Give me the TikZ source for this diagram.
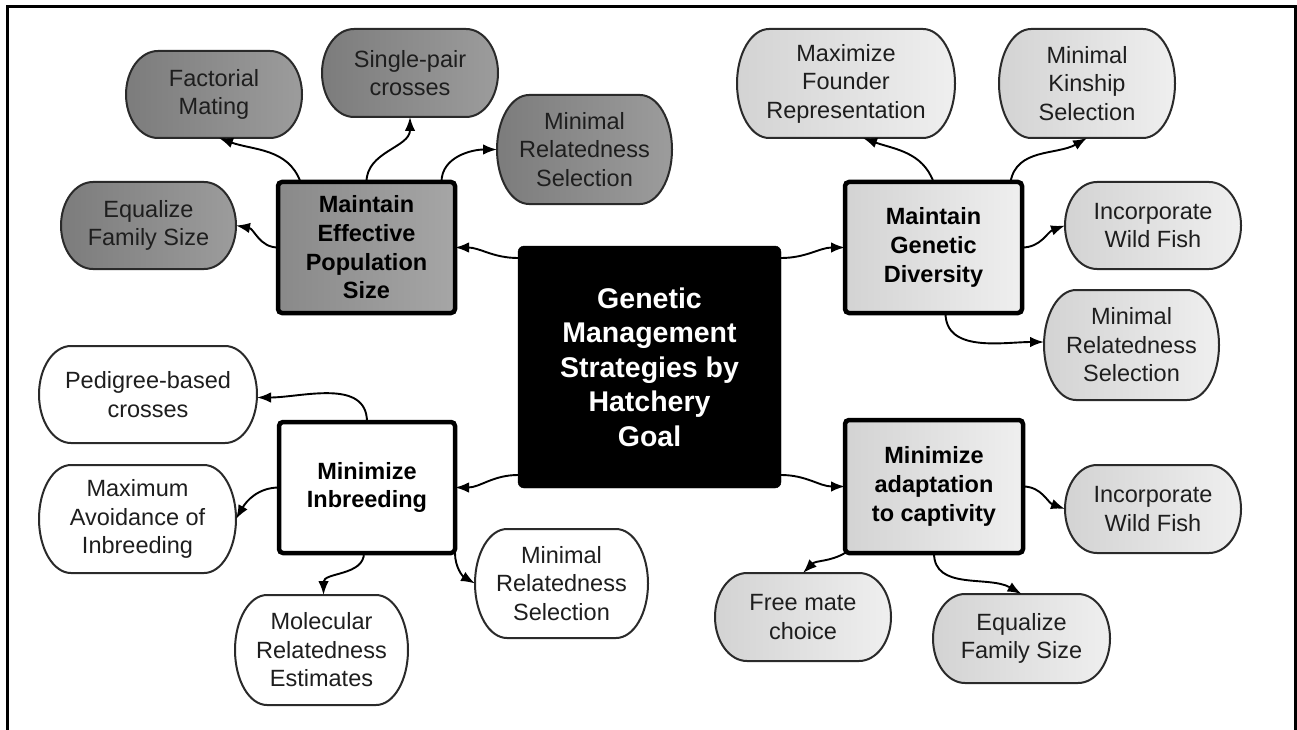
\documentclass[tikz,border=0pt]{standalone}
\usepackage{fontspec}
\setmainfont{Liberation Sans}
\usetikzlibrary{arrows.meta}

\definecolor{darkA}{HTML}{7C7C7C}
\definecolor{darkB}{HTML}{9C9C9C}
\definecolor{lightA}{HTML}{D3D3D3}
\definecolor{lightB}{HTML}{EFEFEF}
\definecolor{edge}{HTML}{2A2A2A}
\definecolor{ink}{HTML}{1E1E1E}

% horizontal radius of the elliptic ends of the option nodes
\def\pillrx{32}

% option node: name, centre x, centre y (downwards), width, height, fill style, text
\newcommand\pill[7]{%
  \path[pillborder,#6]
    ({#2-#4/2+\pillrx},{-#3+#5/2}) -- ({#2+#4/2-\pillrx},{-#3+#5/2})
    arc[start angle=90,end angle=-90,x radius=\pillrx,y radius={#5/2}]
    -- ({#2-#4/2+\pillrx},{-#3-#5/2})
    arc[start angle=270,end angle=90,x radius=\pillrx,y radius={#5/2}]
    -- cycle;
  \node[pilltext,minimum width=#4pt,minimum height=#5pt] (#1) at (#2,-#3) {#7};
}

\tikzset{
  pillborder/.style={draw=edge,line width=2pt},
  darkfill/.style={left color=darkA,right color=darkB},
  lightfill/.style={left color=lightA,right color=lightB},
  whitefill/.style={fill=white},
  pilltext/.style={inner sep=0pt,outer sep=0pt,align=center,text=ink,
    font=\fontsize{23.5}{28.5}\selectfont},
  goalbox/.style={draw=black,line width=4.5pt,rounded corners=4pt,inner sep=0pt,
    outer sep=0pt,align=center,text=black,
    font=\fontsize{23.5}{28.7}\selectfont\bfseries},
  hub/.style={fill=black,draw=black,rounded corners=6pt,inner sep=0pt,outer sep=0pt,
    align=center,text=white,font=\fontsize{28.5}{34.5}\selectfont\bfseries,
    minimum width=263pt,minimum height=242pt},
  link/.style={draw=black,line width=1.9pt,-{Latex[length=14pt,width=10.5pt]}},
  frameline/.style={draw=black,line width=3pt}
}

\begin{document}
\begin{tikzpicture}[x=1pt,y=1pt]
\useasboundingbox (0,0) rectangle (1297,-730);
\fill[white] (0,0) rectangle (1297,-730);

% open frame around the chart
\draw[frameline] (7.5,-730) -- (7.5,-6.5) -- (1295,-6.5) -- (1295,-730);

% central goal
\node[hub] (ctr) at (649.5,-367) {Genetic\\Management\\Strategies by\\Hatchery\\Goal};

% four management goals
\node[goalbox,left color=darkA!90!white,right color=darkB!90!white,
      minimum width=177pt,minimum height=131pt] (mep) at (366.5,-247.5)
      {Maintain\\Effective\\Population\\Size};
\node[goalbox,left color=lightA,right color=lightB,
      minimum width=177pt,minimum height=131pt] (mgd) at (933.5,-247.5)
      {Maintain\\Genetic\\Diversity};
\node[goalbox,fill=white,
      minimum width=176pt,minimum height=131pt] (mib) at (367,-487.5)
      {Minimize\\Inbreeding};
\node[goalbox,left color=lightA,right color=lightB,
      minimum width=178pt,minimum height=133pt] (mac) at (934,-486.5)
      {Minimize\\adaptation\\to captivity};

% strategies for effective population size
\pill{fac}{214}{94.5}{176}{87}{darkfill}{Factorial\\Mating}
\pill{spc}{410}{73}{176}{88}{darkfill}{Single-pair\\crosses}
\pill{mrs1}{584.5}{149.5}{175}{109}{darkfill}{Minimal\\Relatedness\\Selection}
\pill{efs1}{148.5}{225.5}{175}{87}{darkfill}{Equalize\\Family Size}

% strategies for genetic diversity
\pill{mfr}{846}{83.5}{218}{109}{lightfill}{Maximize\\Founder\\Representation}
\pill{mks}{1087}{83.5}{176}{109}{lightfill}{Minimal\\Kinship\\Selection}
\pill{iwf1}{1153}{225.5}{176}{87}{lightfill}{Incorporate\\Wild Fish}
\pill{mrs2}{1131.5}{345}{175}{110}{lightfill}{Minimal\\Relatedness\\Selection}

% strategies against inbreeding
\pill{pbc}{148}{394.5}{218}{97}{whitefill}{Pedigree-based\\crosses}
\pill{maoi}{137.5}{519}{197}{108}{whitefill}{Maximum\\Avoidance of\\Inbreeding}
\pill{mre}{321.5}{650}{173}{110}{whitefill}{Molecular\\Relatedness\\Estimates}
\pill{mrs3}{561.5}{583.5}{173}{109}{whitefill}{Minimal\\Relatedness\\Selection}

% strategies against adaptation to captivity
\pill{iwf2}{1153}{509}{176}{88}{lightfill}{Incorporate\\Wild Fish}
\pill{fmc}{803}{617}{176}{88}{lightfill}{Free mate\\choice}
\pill{efs2}{1021.5}{638.5}{177}{89}{lightfill}{Equalize\\Family Size}

% hub to goals
\draw[link] ([yshift=109pt]ctr.west) to[out=180,in=0] (mep.east);
\draw[link] ([yshift=109pt]ctr.east) to[out=0,in=180] (mgd.west);
\draw[link] ([yshift=-108pt]ctr.west) to[out=180,in=0] (mib.east);
\draw[link] ([yshift=-108pt]ctr.east) to[out=0,in=180] (mac.west);

% effective population size
\draw[link] ([xshift=-66pt]mep.north) to[out=110,in=-20] ([xshift=5pt]fac.south);
\draw[link] (mep.north) to[out=90,in=-90] (spc.south);
\draw[link] ([xshift=75pt]mep.north) to[out=90,in=180] (mrs1.west);
\draw[link] (mep.west) to[out=180,in=-10] (efs1.east);

% genetic diversity
\draw[link] (mgd.north) to[out=110,in=-20] ([xshift=17pt]mfr.south);
\draw[link] ([xshift=77pt]mgd.north) to[out=80,in=-150] (mks.south);
\draw[link] (mgd.east) to[out=0,in=-160] (iwf1.west);
\draw[link] ([xshift=12pt]mgd.south) to[out=-90,in=180] ([yshift=3pt]mrs2.west);

% inbreeding
\draw[link] (mib.north) to[out=90,in=0] ([yshift=-3pt]pbc.east);
\draw[link] (mib.west) to[out=180,in=60] (maoi.east);
\draw[link] ([xshift=-3pt]mib.south) to[out=-90,in=90] ([xshift=2pt]mre.north);
\draw[link] (mib.south east) to[out=-90,in=150] (mrs3.west);

% adaptation to captivity
\draw[link] (mac.east) to[out=0,in=160] (iwf2.west);
\draw[link] (mac.south west) to[out=-150,in=45] (fmc.north);
\draw[link] (mac.south) to[out=-90,in=150] (efs2.north);
\end{tikzpicture}
\end{document}
